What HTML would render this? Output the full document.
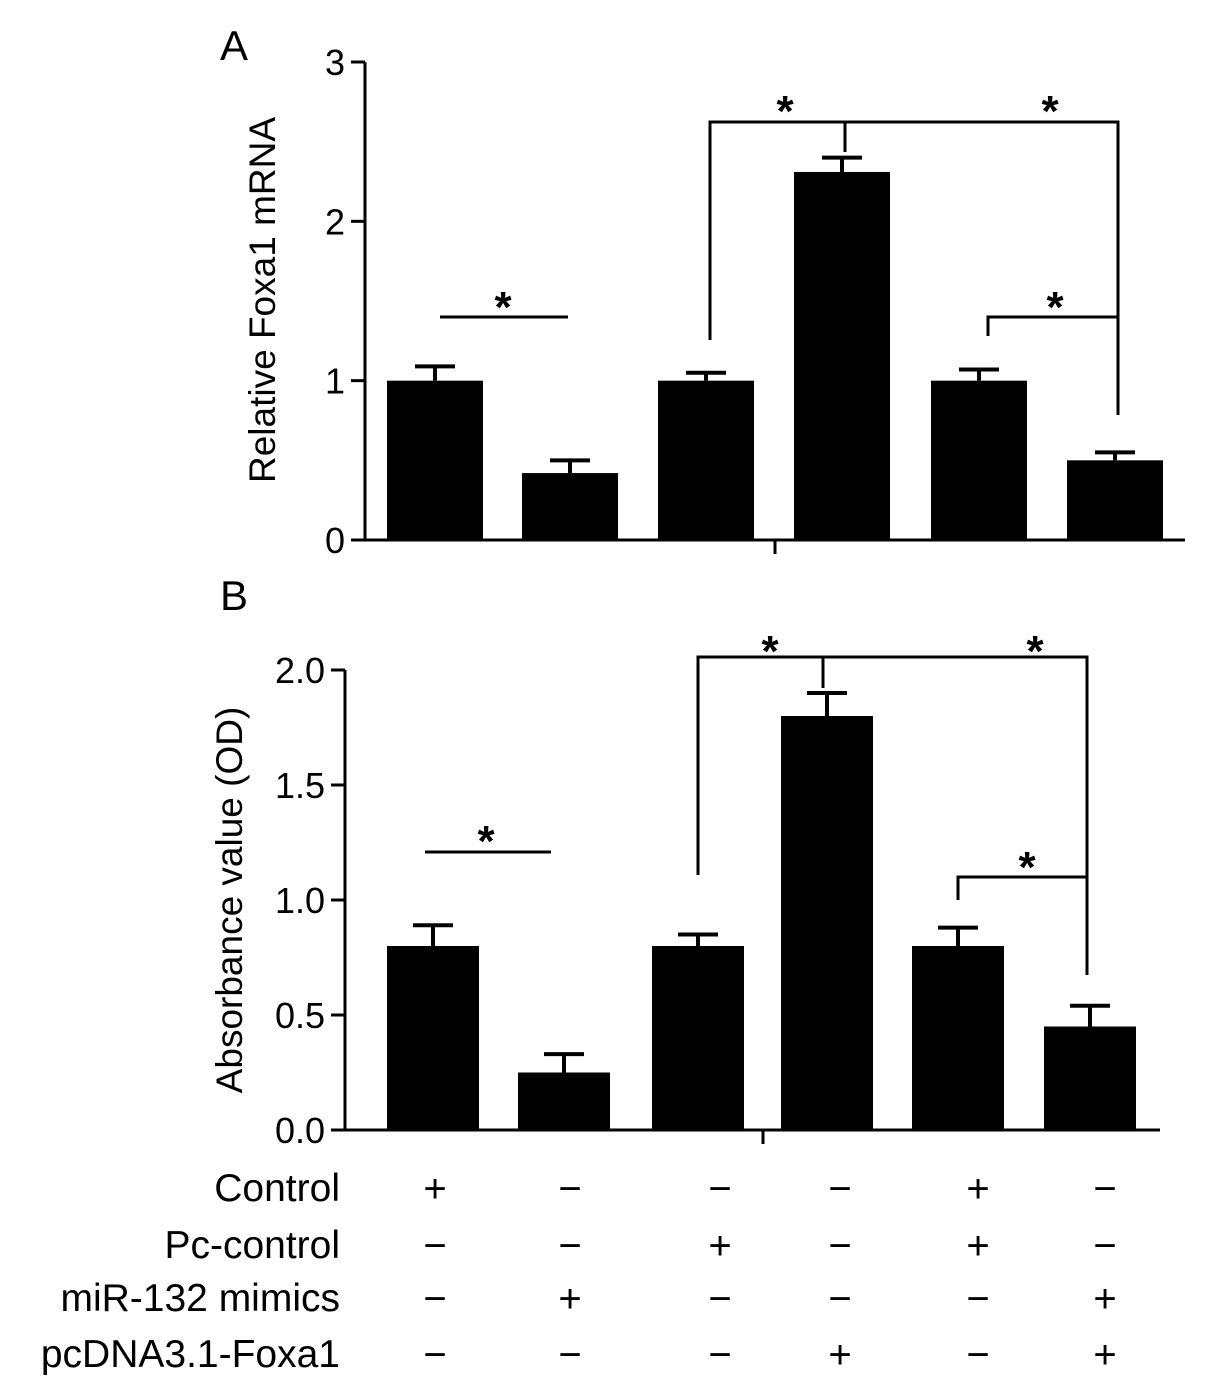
<!DOCTYPE html>
<html><head><meta charset="utf-8"><style>
html,body{margin:0;padding:0;background:#fff;}
svg{display:block;font-family:"Liberation Sans",Arial,sans-serif;}
</style></head><body>
<svg id="chart" width="1205" height="1390" viewBox="0 0 1205 1390" xmlns="http://www.w3.org/2000/svg"></svg>
<script>
const categoriesA = ["g1","g2","g3","g4","g5","g6"];
const valuesA = [1.0, 0.42, 1.0, 2.31, 1.0, 0.5];
const errorsA = [0.09, 0.08, 0.05, 0.09, 0.07, 0.05];
const ticksA = [0, 1, 2, 3];
const valuesB = [0.8, 0.25, 0.8, 1.8, 0.8, 0.45];
const errorsB = [0.09, 0.08, 0.05, 0.1, 0.08, 0.09];
const ticksB = [0, 0.5, 1.0, 1.5, 2.0];
const rowLabels = ["Control","Pc-control","miR-132 mimics","pcDNA3.1-Foxa1"];
const rowSigns = [["+","−","−","−","+","−"],["−","−","+","−","+","−"],["−","+","−","−","−","+"],["−","−","−","+","−","+"]];

const NS="http://www.w3.org/2000/svg";
const svg=document.getElementById('chart');
function mk(tag,attrs,parent){const e=document.createElementNS(NS,tag);for(const k in attrs)e.setAttribute(k,attrs[k]);(parent||svg).appendChild(e);return e;}
function txt(s,x,y,size,anchor,parent){const t=mk('text',{x:x,y:y,'font-size':size,'text-anchor':anchor||'middle',fill:'#000'},parent);t.textContent=s;return t;}

function panel(cfg){
  const g=mk('g',{});
  
  
  const y=v=>cfg.y0-(v/cfg.ymax)*(cfg.y0-cfg.y1);
  const ax=mk('line',{x1:cfg.ax,y1:cfg.y1,x2:cfg.ax,y2:cfg.y0,stroke:'#000','stroke-width':3},g);
  
  
  const xa=mk('line',{x1:cfg.ax,y1:cfg.y0,x2:cfg.xend,y2:cfg.y0,stroke:'#000','stroke-width':3},g);
  
  
  mk('line',{x1:cfg.midTick,y1:cfg.y0,x2:cfg.midTick,y2:cfg.y0+14,stroke:'#000','stroke-width':3},g);
  cfg.ticks.forEach(t=>{
    mk('line',{x1:cfg.ax-14,y1:y(t),x2:cfg.ax,y2:y(t),stroke:'#000','stroke-width':3},g);
    const l=txt(cfg.fmt(t),cfg.ax-20,y(t)+13,36,'end',g);
    
    
  });
  cfg.values.forEach((v,i)=>{
    const cx=cfg.centers[i];
    const b=mk('rect',{x:cx-cfg.bw/2,y:y(v),width:cfg.bw,height:cfg.y0-y(v),fill:'#000'},g);
    
    
    const e=v+cfg.errors[i];
    mk('line',{x1:cx,y1:y(v),x2:cx,y2:y(e),stroke:'#000','stroke-width':4},g);
    mk('line',{x1:cx-20,y1:y(e),x2:cx+20,y2:y(e),stroke:'#000','stroke-width':4},g);
  });
  const tt=txt(cfg.title,0,0,37,'middle',g);
  tt.setAttribute('transform','translate('+cfg.tx+','+cfg.ty+') rotate(-90)');
  
  
  const pl=txt(cfg.letter,234,cfg.letterY,42,'middle',g);
  
  
  const s=cfg.sig;const sw={stroke:'#000','stroke-width':3,fill:'none'};
  mk('line',Object.assign({x1:s.l1[0],y1:s.l1[2],x2:s.l1[1],y2:s.l1[2]},sw),g);
  mk('polyline',Object.assign({points:`${s.big[0]},${s.big[3]} ${s.big[0]},${s.big[2]} ${s.big[1]},${s.big[2]} ${s.big[1]},${s.big[4]}`},sw),g);
  mk('line',Object.assign({x1:s.stem[0],y1:s.big[2],x2:s.stem[0],y2:s.stem[1]},sw),g);
  mk('polyline',Object.assign({points:`${s.small[0]},${s.small[3]} ${s.small[0]},${s.small[2]} ${s.small[1]},${s.small[2]}`},sw),g);
  s.stars.forEach(p=>{const st=txt('*',p[0],p[1],44,'middle',g);st.setAttribute('font-weight','bold');});
}

panel({name:'panel-a',ax:365,xend:1185,y0:540,y1:62,ymax:3,ticks:ticksA,fmt:t=>String(t),values:valuesA,errors:errorsA,
  centers:[435,570,706,842,979,1115],bw:96,midTick:775,title:'Relative Foxa1 mRNA',tx:275,ty:300,letter:'A',letterY:60,
  sig:{l1:[440,568,317],big:[710,1118,122,340,415],stem:[845,152],small:[988,1118,317,336],
       stars:[[503,322],[785,126],[1050,126],[1055,322]]}});
panel({name:'panel-b',ax:345,xend:1160,y0:1130,y1:670,ymax:2,ticks:ticksB,fmt:t=>t.toFixed(1),values:valuesB,errors:errorsB,
  centers:[433,564,698,827,958,1090],bw:92,midTick:763,title:'Absorbance value (OD)',tx:242,ty:900,letter:'B',letterY:610,
  sig:{l1:[425,551,852],big:[698,1087,657,875,975],stem:[823,688],small:[958,1087,877,900],
       stars:[[486,856],[770,666],[1035,666],[1027,882]]}});

const cols=[435,570,720,840,978,1105];
const rowsY=[1201,1258,1311,1367];
rowLabels.forEach((lab,r)=>{
  const t=txt(lab,340,rowsY[r],39,'end');
  
  
  rowSigns[r].forEach((s,i)=>{
    const c=txt(s,cols[i],rowsY[r]+1,40,'middle');
    
    
  });
});
</script>
</body></html>
